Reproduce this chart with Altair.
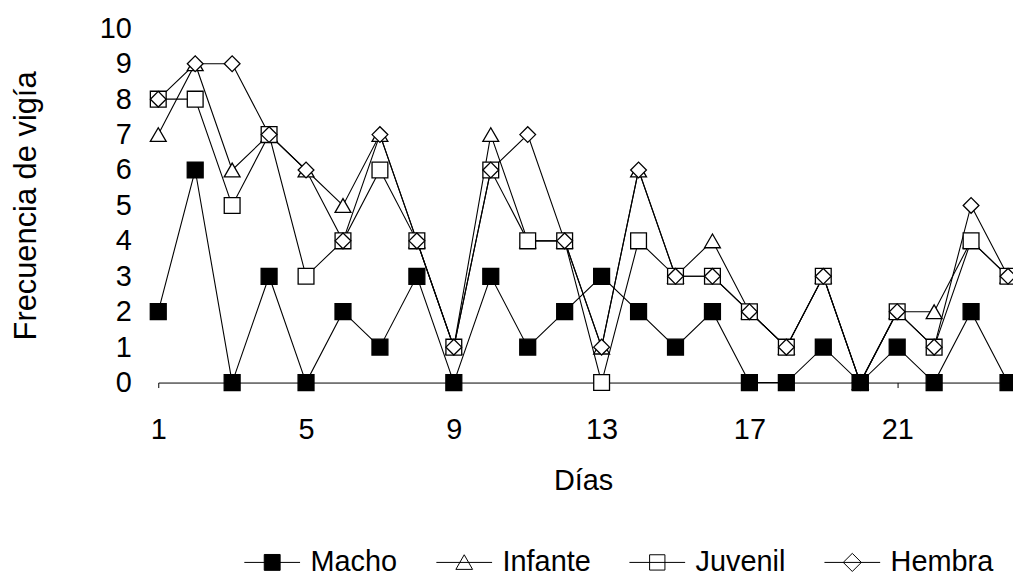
import altair as alt
import pandas as pd

dias = list(range(1, 25))
series = ["Macho", "Infante", "Juvenil", "Hembra"]
macho = [2, 6, 0, 3, 0, 2, 1, 3, 0, 3, 1, 2, 3, 2, 1, 2, 0, 0, 1, 0, 1, 0, 2, 0]
infante = [7, 9, 6, 7, 6, 5, 7, 4, 1, 7, 4, 4, 1, 6, 3, 4, 2, 1, 3, 0, 2, 2, 4, 3]
juvenil = [8, 8, 5, 7, 3, 4, 6, 4, 1, 6, 4, 4, 0, 4, 3, 3, 2, 1, 3, 0, 2, 1, 4, 3]
hembra = [8, 9, 9, 7, 6, 4, 7, 4, 1, 6, 7, 4, 1, 6, 3, 3, 2, 1, 3, 0, 2, 1, 5, 3]
x_ticks = [1, 5, 9, 13, 17, 21]
y_ticks = list(range(0, 11))

values = {"Macho": macho, "Infante": infante, "Juvenil": juvenil, "Hembra": hembra}
draw_order = ["Infante", "Juvenil", "Hembra", "Macho"]
rows = []
for s in draw_order:
    for d, v in zip(dias, values[s]):
        rows.append({"dia": d, "valor": v, "serie": s})
df = pd.DataFrame(rows)

FONT = "Liberation Sans"
FS = 29

x_enc = alt.X("dia:Q", scale=alt.Scale(domain=[1, 24], nice=False, zero=False),
              axis=alt.Axis(values=x_ticks, title="Días", tickSize=5, tickColor="black",
                            domainColor="black", labelPadding=28, labelFontSize=FS,
                            titleFontSize=FS, labelFont=FONT, titleFont=FONT,
                            labelColor="black", titleColor="black", titleFontWeight="normal",
                            titleY=98, titleBaseline="middle", grid=False, labelFlush=False))
y_enc = alt.Y("valor:Q", scale=alt.Scale(domain=[0, 10], nice=False),
              axis=alt.Axis(values=y_ticks, title="Frecuencia de vigía", ticks=False,
                            domain=False, labelPadding=27, labelFontSize=FS,
                            titleFontSize=31, labelFont=FONT, titleFont=FONT,
                            labelColor="black", titleColor="black", titleFontWeight="normal",
                            titleX=-132, titleBaseline="middle", grid=False))

lines = alt.Chart(df).mark_line(color="black", strokeWidth=1.1).encode(
    x=x_enc, y=y_enc, detail="serie:N", order="dia:Q"
)

points = alt.Chart(df).mark_point(filled=True, stroke="black", strokeWidth=1.3, opacity=1).encode(
    x=x_enc, y=y_enc,
    shape=alt.Shape("serie:N", scale=alt.Scale(domain=series,
                    range=["square", "triangle-up", "square", "diamond"]), legend=None),
    fill=alt.Fill("serie:N", scale=alt.Scale(domain=series,
                  range=["black", "white", "white", "white"]), legend=None),
    size=alt.Size("serie:N", scale=alt.Scale(domain=series, range=[256, 250, 250, 330]), legend=None),
)

leg_paths = [
    "M-2,0H2M-0.57,-0.57H0.57V0.57H-0.57Z",
    "M-2,0H2M0,-0.55L-0.6,0.5H0.6Z",
    "M-2,0H2M-0.55,-0.55H0.55V0.55H-0.55Z",
    "M-2,0H2M-0.65,0L0,-0.65L0.65,0L0,0.65Z",
]

LEG_SIZE = 784

def leg():
    return alt.Legend(
        title=None, orient="none", direction="horizontal", columns=4,
        legendX=100, legendY=522, labelFontSize=FS, labelFont=FONT, labelColor="black",
        symbolSize=LEG_SIZE, symbolStrokeWidth=1, labelOffset=24, columnPadding=36,
        symbolStrokeColor="black", symbolOpacity=1,
    )

legend_layer = alt.Chart(df).transform_filter("false").mark_point(
    filled=True, strokeWidth=1, size=LEG_SIZE, opacity=1
).encode(
    x=x_enc, y=y_enc,
    shape=alt.Shape("serie:N", scale=alt.Scale(domain=series, range=leg_paths), legend=leg()),
    fill=alt.Fill("serie:N", scale=alt.Scale(domain=series,
                  range=["black", "white", "white", "white"]), legend=leg()),
    stroke=alt.Stroke("serie:N", scale=alt.Scale(domain=series,
                      range=["black", "black", "black", "black"]), legend=leg()),
)

chart = alt.layer(lines, points, legend_layer).resolve_scale(
    shape="independent", fill="independent", stroke="independent"
).properties(
    width=854, height=356,
    autosize=alt.AutoSizeParams(type="none"),
    padding={"left": 151, "top": 19, "right": 5, "bottom": 197},
    background="white",
).configure_view(stroke=None)

chart.save("out.html", embed_options={"renderer": "svg", "actions": False})
